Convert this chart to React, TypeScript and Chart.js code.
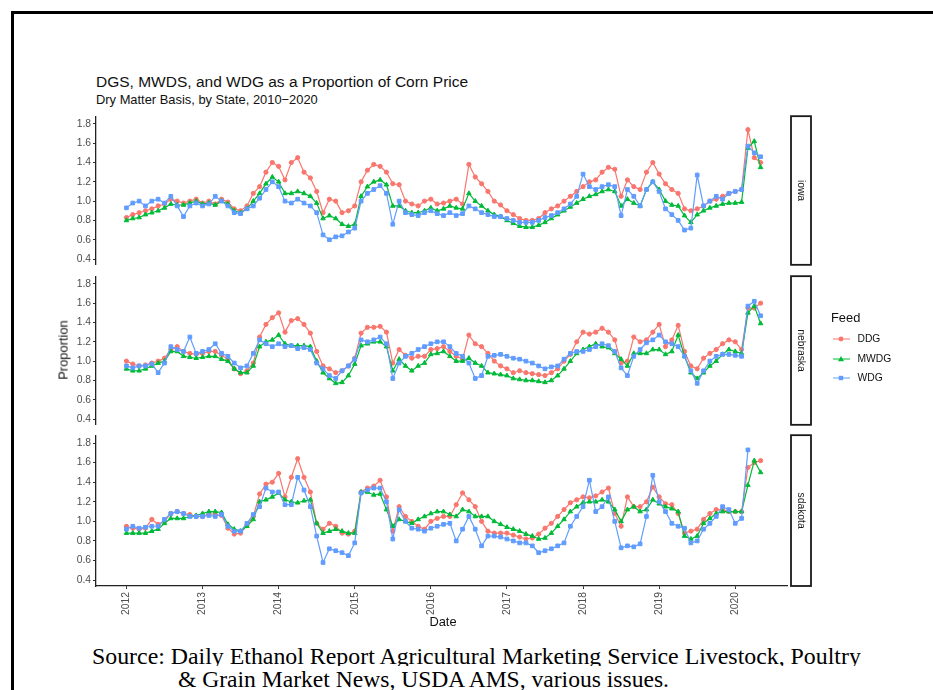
import React, { useEffect, useLayoutEffect, useRef } from "react";
import { Chart, registerables } from "chart.js";

Chart.register(...registerables);

// ---------- data ----------
const FEEDS = ["DDG", "MWDG", "WDG"];
const COLORS = ["#F8766D", "#00BA38", "#619CFF"];
const SHAPES = ["circle", "triangle", "rect"];
const STATES = ["iowa", "nebraska", "sdakota"];
const YEAR_TICKS = [2012, 2013, 2014, 2015, 2016, 2017, 2018, 2019, 2020];
const Y_TICKS = [0.4, 0.6, 0.8, 1.0, 1.2, 1.4, 1.6, 1.8];
const START_YEAR = 2012; // monthly observations from Jan 2012
const MONTHS_PER_YEAR = 12;

const iowaDDG = [
  0.83, 0.86, 0.88, 0.9, 0.92, 0.95, 0.97, 1.02, 1.0, 0.98, 1.0, 1.02,
  0.98, 1.0, 0.97, 1.02, 0.99, 0.92, 0.9, 0.95, 1.08, 1.15, 1.3, 1.4,
  1.36, 1.22, 1.4, 1.45, 1.3, 1.24, 1.1, 0.88, 1.02, 1.0, 0.88, 0.9,
  0.95, 1.2, 1.32, 1.38, 1.36, 1.3, 1.18, 1.17, 1.0, 0.97, 0.95, 1.0,
  1.02, 0.97, 0.98, 1.0, 1.02, 0.97, 1.38, 1.25, 1.18, 1.1, 1.0, 0.96,
  0.9, 0.86, 0.82, 0.8, 0.8, 0.82, 0.88, 0.92, 0.95, 1.0, 1.05, 1.1,
  1.15, 1.2, 1.22, 1.3, 1.35, 1.33, 1.05, 1.22, 1.15, 1.12, 1.3, 1.4,
  1.28, 1.18, 1.12, 1.08, 0.92, 0.9, 0.92, 0.95, 1.0, 1.02, 1.05, 1.08,
  1.1, 1.12, 1.74, 1.45, 1.4,
];
const iowaMWDG = [
  0.8, 0.82, 0.83, 0.86, 0.88, 0.9, 0.93, 0.97, 0.96, 0.96, 0.98, 1.0,
  0.97, 0.98, 0.96, 1.0, 0.97, 0.9, 0.88, 0.92, 1.0, 1.08, 1.18, 1.25,
  1.2, 1.08, 1.08, 1.1, 1.08, 1.05, 0.98, 0.82, 0.85, 0.82, 0.76, 0.74,
  0.76, 1.05, 1.15, 1.2, 1.22, 1.17, 0.95, 0.95, 0.9, 0.88, 0.88, 0.9,
  0.93, 0.9, 0.92, 0.95, 0.93, 0.92, 1.08, 1.0, 0.95, 0.9, 0.86, 0.84,
  0.8, 0.77, 0.74, 0.73, 0.73, 0.75, 0.78, 0.82, 0.86, 0.9, 0.94, 0.98,
  1.02, 1.05, 1.07, 1.1, 1.12, 1.1, 0.95, 1.02, 0.98, 0.95, 1.12, 1.2,
  1.12, 1.0, 0.96, 0.95, 0.85, 0.78, 0.86, 0.9, 0.93, 0.95, 0.97, 0.98,
  0.98, 0.99, 1.55, 1.62, 1.35,
];
const iowaWDG = [
  0.93, 0.98, 1.0, 0.95, 1.0, 1.02, 0.98, 1.05, 0.95, 0.84, 0.95, 0.98,
  0.95, 0.97, 1.05, 1.0, 0.95, 0.88, 0.87, 0.92, 0.95, 1.03, 1.12, 1.2,
  1.15, 1.0, 0.98, 1.02, 0.98, 0.95, 0.88, 0.65, 0.6, 0.63, 0.64, 0.68,
  0.72, 1.0, 1.08, 1.12, 1.16, 1.08, 0.76, 1.0, 0.88, 0.86, 0.85, 0.88,
  0.9, 0.87, 0.85, 0.88, 0.85, 0.87, 0.95, 0.92, 0.88, 0.86, 0.84, 0.84,
  0.82, 0.8, 0.78, 0.78, 0.78, 0.8, 0.83, 0.85, 0.88, 0.92, 0.97, 1.05,
  1.28, 1.15, 1.12, 1.15, 1.17, 1.15, 0.85, 1.12, 1.05, 0.95, 1.12, 1.2,
  1.1, 0.92, 0.86, 0.8, 0.7, 0.72, 1.27, 0.95, 1.0, 1.05, 1.02, 1.08,
  1.1, 1.12, 1.57, 1.5, 1.46,
];

const nebraskaDDG = [
  1.0, 0.97, 0.95, 0.96, 0.98, 1.0, 1.03, 1.12, 1.15, 1.1, 1.08, 1.07,
  1.08, 1.1, 1.1, 1.06, 1.02, 0.92, 0.87, 0.9, 0.98, 1.25, 1.38, 1.45,
  1.5, 1.3, 1.42, 1.44, 1.38, 1.29, 1.1, 0.95, 0.92, 0.88, 0.9, 0.95,
  1.03, 1.29, 1.35, 1.35, 1.36, 1.3, 0.98, 1.12, 1.06, 1.03, 1.05, 1.05,
  1.12, 1.13, 1.15, 1.1, 1.05, 1.02, 1.27, 1.18, 1.15, 1.08, 1.0, 0.95,
  0.92, 0.88, 0.9, 0.88, 0.87, 0.86, 0.85, 0.88, 0.92, 1.0, 1.07, 1.2,
  1.3, 1.28, 1.3, 1.34, 1.3, 1.22, 0.98, 1.0, 1.25, 1.2, 1.22, 1.3,
  1.38, 1.15, 1.22, 1.37, 1.1, 0.95, 0.92, 1.03, 1.08, 1.12, 1.18, 1.22,
  1.2, 1.12, 1.55, 1.55, 1.6,
];
const nebraskaMWDG = [
  0.92, 0.9, 0.9, 0.92, 0.95, 0.98, 1.0, 1.1, 1.1, 1.05, 1.04, 1.03,
  1.04, 1.05, 1.05, 1.02, 1.0, 0.92, 0.88, 0.88, 0.95, 1.15, 1.2, 1.22,
  1.27, 1.18, 1.16, 1.16, 1.16, 1.15, 1.0, 0.88, 0.82, 0.77, 0.78, 0.85,
  0.97, 1.16, 1.18, 1.2, 1.2, 1.15, 0.9, 1.02, 0.95, 0.9, 0.95, 0.98,
  1.07, 1.08, 1.1, 1.05, 1.0, 1.0, 1.03, 0.98, 0.95, 0.88, 0.87, 0.86,
  0.85, 0.82, 0.81, 0.8, 0.8, 0.79, 0.78, 0.8, 0.85, 0.92, 1.0, 1.08,
  1.12, 1.15, 1.18, 1.15, 1.14, 1.08, 1.02, 0.95, 1.08, 1.08, 1.08, 1.12,
  1.12, 1.07, 1.1, 1.27, 1.05, 0.88, 0.82, 0.88, 0.95, 1.0, 1.07, 1.12,
  1.1, 1.08, 1.5, 1.57, 1.39,
];
const nebraskaWDG = [
  0.95, 0.93, 0.95, 0.95, 0.97, 0.88, 0.98, 1.15, 1.12, 1.1, 1.25, 1.08,
  1.1, 1.12, 1.18, 1.08, 1.05, 0.98, 0.93, 0.95, 1.08, 1.22, 1.18, 1.15,
  1.18, 1.15, 1.16, 1.13, 1.14, 1.12, 0.98, 0.92, 0.85, 0.82, 0.9, 0.95,
  1.02, 1.22, 1.2, 1.22, 1.25, 1.18, 0.82, 0.98, 1.05, 1.08, 1.12, 1.15,
  1.18, 1.2, 1.2, 1.15, 1.08, 1.05, 0.98, 0.82, 0.85, 1.05, 1.06, 1.07,
  1.05, 1.03, 1.02, 1.0, 0.98, 0.95, 0.92, 0.94, 0.95, 1.02, 1.08, 1.1,
  1.1, 1.12, 1.15, 1.18, 1.16, 1.1, 0.93, 0.85, 1.05, 1.12, 1.19, 1.22,
  1.27, 1.2, 1.18, 1.15, 1.05, 0.9, 0.77, 0.9, 1.0, 1.05, 1.07, 1.07,
  1.06, 1.05, 1.57, 1.62, 1.47,
];

const sdakotaDDG = [
  0.95, 0.93, 0.92, 0.93, 1.02, 0.97, 1.0, 1.08, 1.1, 1.08, 1.07, 1.05,
  1.05, 1.08, 1.07, 1.06, 0.93, 0.87, 0.88, 0.96, 1.05, 1.28, 1.38, 1.4,
  1.49, 1.25, 1.45, 1.64, 1.45, 1.3, 0.98, 0.92, 0.98, 0.95, 0.88, 0.87,
  0.9, 1.3, 1.34, 1.36, 1.42, 1.25, 0.9, 1.15, 1.05, 1.0, 0.95, 0.92,
  1.0, 1.03, 1.05, 1.05, 1.17, 1.29, 1.22, 1.15, 1.0, 0.9, 0.88, 0.88,
  0.88, 0.86, 0.84, 0.82, 0.83, 0.87, 0.93, 0.98, 1.05, 1.12, 1.19, 1.22,
  1.25, 1.24, 1.26, 1.3, 1.34, 1.08, 0.95, 1.25, 1.15, 1.15, 1.2, 1.35,
  1.25, 1.18, 1.17, 1.08, 0.88, 0.9, 0.92, 1.02, 1.08, 1.12, 1.12, 1.1,
  1.1, 1.1, 1.55, 1.6, 1.62,
];
const sdakotaMWDG = [
  0.88, 0.88, 0.88, 0.88, 0.9, 0.92, 0.98, 1.03, 1.03, 1.03, 1.05, 1.06,
  1.08, 1.1, 1.1, 1.09, 0.97, 0.92, 0.9, 0.95, 1.02, 1.2, 1.22, 1.25,
  1.29, 1.22, 1.2, 1.19, 1.21, 1.22, 0.98, 0.88, 0.9, 0.92, 0.9, 0.88,
  0.88, 1.3, 1.3, 1.27, 1.28, 1.12, 0.95, 1.02, 1.0, 0.98, 1.02, 1.05,
  1.08, 1.1, 1.1, 1.07, 1.05, 1.12, 1.1, 1.05, 1.05, 1.05, 1.0, 0.97,
  0.94, 0.92, 0.9, 0.87, 0.85, 0.82, 0.83, 0.88, 0.95, 1.02, 1.1, 1.15,
  1.19, 1.2, 1.2, 1.22, 1.2, 1.12, 1.0, 1.12, 1.15, 1.1, 1.12, 1.22,
  1.18, 1.15, 1.13, 1.1, 0.85, 0.82, 0.85, 0.98, 1.03, 1.08, 1.1, 1.1,
  1.1, 1.1, 1.37, 1.62, 1.5,
];
const sdakotaWDG = [
  0.92, 0.95, 0.93, 0.94, 0.95, 0.95, 1.02, 1.08, 1.1, 1.08, 1.05, 1.05,
  1.05, 1.06, 1.05, 1.07, 0.95, 0.9, 0.9, 0.98, 1.07, 1.15, 1.34, 1.3,
  1.3, 1.17, 1.17, 1.45, 1.32, 1.15, 0.85, 0.58, 0.72, 0.7, 0.68, 0.65,
  0.78, 1.29, 1.32, 1.34, 1.34, 1.2, 0.82, 1.12, 1.0, 0.93, 0.92, 0.9,
  0.93, 0.95, 0.97, 0.98, 0.8, 0.92, 1.05, 0.92, 0.75, 0.85, 0.85, 0.84,
  0.82, 0.8, 0.78, 0.78, 0.75, 0.68, 0.7, 0.72, 0.75, 0.78, 0.95, 1.05,
  1.15, 1.42, 1.1, 1.15, 1.25, 1.0, 0.73, 0.75, 0.74, 0.77, 1.05, 1.47,
  1.2, 1.1, 0.98, 0.95, 0.93, 0.78, 0.8, 0.92, 0.98, 1.05, 1.15, 1.12,
  0.98, 1.03, 1.73, null, null,
];

const SERIES = [
  [iowaDDG, iowaMWDG, iowaWDG],
  [nebraskaDDG, nebraskaMWDG, nebraskaWDG],
  [sdakotaDDG, sdakotaMWDG, sdakotaWDG],
];
const dates = iowaDDG.map((_, i) => START_YEAR + i / MONTHS_PER_YEAR);

// ---------- layout ----------
const SANS = '"Liberation Sans", Arial, Helvetica, sans-serif';
const SERIF = '"Liberation Serif", "Times New Roman", serif';
const X_MIN = 2011.6;
const X_MAX = 2020.68;
const Y_MIN = 0.34;
const Y_MAX = 1.88;
const CANVAS_LEFT = 40;
const PLOT_LEFT = 96;
const PLOT_RIGHT = 787;
const RIGHT_PAD = 30;
const PANEL_TOPS = [114, 274, 433];
const PANEL_H = 153;
const PAD = 6;
const X_AXIS_H = 44;
const STRIP_LEFT = 791;
const STRIP_W = 20;

function makeStripPlugin(label: string) {
  return {
    id: "strip",
    afterDraw(chart: any) {
      const { ctx, chartArea } = chart;
      const x = STRIP_LEFT - CANVAS_LEFT;
      const top = chartArea.top;
      const h = chartArea.bottom - chartArea.top;
      ctx.save();
      ctx.fillStyle = "#ffffff";
      ctx.fillRect(x, top, STRIP_W, h);
      ctx.strokeStyle = "#1a1a1a";
      ctx.lineWidth = 1.8;
      ctx.strokeRect(x, top, STRIP_W, h);
      ctx.translate(x + STRIP_W / 2, top + h / 2);
      ctx.rotate(Math.PI / 2);
      ctx.font = `10.3px ${SANS}`;
      ctx.fillStyle = "#1a1a1a";
      ctx.textAlign = "center";
      ctx.textBaseline = "middle";
      ctx.fillText(label, 0, 0);
      ctx.restore();
    },
  };
}

function Panel({ index }: { index: number }) {
  const ref = useRef<HTMLCanvasElement>(null);
  const isLast = index === STATES.length - 1;
  const width = PLOT_RIGHT - CANVAS_LEFT + RIGHT_PAD;
  const height = PAD + PANEL_H + (isLast ? X_AXIS_H : PAD);
  useEffect(() => {
    if (!ref.current) return;
    const series = SERIES[index];
    const tickFont = { size: 10.3, family: SANS };
    const chart = new Chart(ref.current, {
      type: "line",
      data: {
        datasets: FEEDS.map((feed, k) => ({
          label: feed,
          data: dates.map((x, i) => ({ x, y: series[k][i] })),
          borderColor: COLORS[k],
          backgroundColor: COLORS[k],
          pointBackgroundColor: COLORS[k],
          pointBorderColor: COLORS[k],
          pointStyle: SHAPES[k] as any,
          pointRadius: k === 0 ? 2.1 : 2.6,
          pointBorderWidth: 1,
          borderWidth: 1.2,
          tension: 0,
          spanGaps: false,
          order: FEEDS.length - 1 - k,
        })),
      },
      options: {
        animation: false,
        responsive: false,
        maintainAspectRatio: false,
        events: [],
        layout: {
          padding: { top: PAD, bottom: isLast ? 0 : PAD, left: 0, right: RIGHT_PAD },
        },
        plugins: {
          legend: { display: false },
          tooltip: { enabled: false },
          title: { display: false },
        },
        scales: {
          x: {
            type: "linear",
            display: isLast,
            min: X_MIN,
            max: X_MAX,
            afterBuildTicks: (s: any) => {
              s.ticks = YEAR_TICKS.map((v) => ({ value: v }));
            },
            afterFit: (s: any) => {
              s.height = isLast ? X_AXIS_H : 0;
            },
            ticks: {
              autoSkip: false,
              minRotation: 90,
              maxRotation: 90,
              padding: 3,
              color: "#4d4d4d",
              font: tickFont,
              callback: (v: any) => String(v),
            },
            grid: { drawOnChartArea: false, drawTicks: true, tickLength: 3, color: "#333333" },
            border: { display: true, color: "#222222", width: 1.3 },
          },
          y: {
            type: "linear",
            min: Y_MIN,
            max: Y_MAX,
            afterBuildTicks: (s: any) => {
              s.ticks = Y_TICKS.map((v) => ({ value: v }));
            },
            afterFit: (s: any) => {
              s.width = PLOT_LEFT - CANVAS_LEFT;
            },
            ticks: {
              autoSkip: false,
              padding: 2,
              color: "#4d4d4d",
              font: tickFont,
              callback: (v: any) => Number(v).toFixed(1),
            },
            grid: { drawOnChartArea: false, drawTicks: true, tickLength: 3, color: "#333333" },
            border: { display: true, color: "#222222", width: 1.3 },
          },
        },
      } as any,
      plugins: [makeStripPlugin(STATES[index])],
    });
    return () => chart.destroy();
  }, [index]);
  return (
    <canvas
      ref={ref}
      width={width}
      height={height}
      style={{
        position: "absolute",
        left: CANVAS_LEFT,
        top: PANEL_TOPS[index] - PAD,
        width,
        height,
      }}
    />
  );
}

function FitText({ text, left, top, width, size }: { text: string; left: number; top: number; width: number; size: number }) {
  const ref = useRef<HTMLDivElement>(null);
  useLayoutEffect(() => {
    const el = ref.current;
    if (!el) return;
    const w = el.offsetWidth;
    if (w > 0) el.style.transform = `scaleX(${width / w})`;
  }, [text, width]);
  return (
    <div
      ref={ref}
      style={{
        position: "absolute",
        left,
        top,
        whiteSpace: "nowrap",
        fontFamily: SERIF,
        fontSize: size,
        lineHeight: 1,
        color: "#000",
        transformOrigin: "left top",
      }}
    >
      {text}
    </div>
  );
}

const LEGEND_ROWS = [339.3, 359, 378.3];

function LegendKey({ k }: { k: number }) {
  const c = COLORS[k];
  const cx = 8;
  const cy = 5;
  let marker: React.ReactNode;
  if (SHAPES[k] === "circle") marker = <circle cx={cx} cy={cy} r={2.4} fill={c} />;
  else if (SHAPES[k] === "triangle")
    marker = <polygon points={`${cx},${cy - 3} ${cx - 3},${cy + 2.2} ${cx + 3},${cy + 2.2}`} fill={c} />;
  else marker = <rect x={cx - 2.2} y={cy - 2.2} width={4.4} height={4.4} fill={c} />;
  return (
    <svg
      width={17}
      height={10}
      style={{ position: "absolute", left: 832.5, top: LEGEND_ROWS[k] - 5 }}
    >
      <line x1={0} y1={cy} x2={17} y2={cy} stroke={c} strokeWidth={1} />
      {marker}
    </svg>
  );
}

export default function App() {
  return (
    <div
      style={{
        position: "fixed",
        left: 0,
        top: 0,
        width: 933,
        height: 690,
        background: "#ffffff",
        overflow: "hidden",
        fontFamily: SANS,
      }}
    >
      {/* page frame */}
      <div style={{ position: "absolute", left: 11, top: 11, width: 922, height: 3, background: "#000" }} />
      <div style={{ position: "absolute", left: 11, top: 11, width: 3, height: 679, background: "#000" }} />

      {/* titles */}
      <div style={{ position: "absolute", left: 96, top: 74, fontSize: 15.5, lineHeight: 1, color: "#111", whiteSpace: "nowrap" }}>
        DGS, MWDS, and WDG as a Proportion of Corn Price
      </div>
      <div style={{ position: "absolute", left: 96, top: 94.2, fontSize: 12.9, lineHeight: 1, color: "#111", whiteSpace: "nowrap" }}>
        Dry Matter Basis, by State, 2010−2020
      </div>

      {STATES.map((_, i) => (
        <Panel key={i} index={i} />
      ))}

      {/* axis titles */}
      <div
        style={{
          position: "absolute",
          left: 64,
          top: 350,
          fontSize: 12.9,
          lineHeight: 1,
          color: "#111",
          whiteSpace: "nowrap",
          transform: "translate(-50%, -50%) rotate(-90deg)",
        }}
      >
        Proportion
      </div>
      <div
        style={{
          position: "absolute",
          left: 443,
          top: 622,
          fontSize: 12.9,
          lineHeight: 1,
          color: "#111",
          whiteSpace: "nowrap",
          transform: "translate(-50%, -50%)",
        }}
      >
        Date
      </div>

      {/* legend */}
      <div style={{ position: "absolute", left: 831, top: 311.8, fontSize: 12.9, lineHeight: 1, color: "#111" }}>Feed</div>
      {FEEDS.map((f, k) => (
        <React.Fragment key={f}>
          <LegendKey k={k} />
          <div
            style={{
              position: "absolute",
              left: 857.5,
              top: LEGEND_ROWS[k],
              fontSize: 10.3,
              lineHeight: 1,
              color: "#111",
              transform: "translateY(-50%)",
              whiteSpace: "nowrap",
            }}
          >
            {f}
          </div>
        </React.Fragment>
      ))}

      {/* source note */}
      <FitText
        text="Source: Daily Ethanol Report Agricultural Marketing Service Livestock, Poultry"
        left={92}
        top={644}
        width={769}
        size={24}
      />
      <div style={{ position: "absolute", left: 14, top: 666, width: 919, height: 24, background: "#fff" }} />
      <FitText
        text="& Grain Market News, USDA AMS, various issues."
        left={178}
        top={667}
        width={491}
        size={24}
      />
    </div>
  );
}
